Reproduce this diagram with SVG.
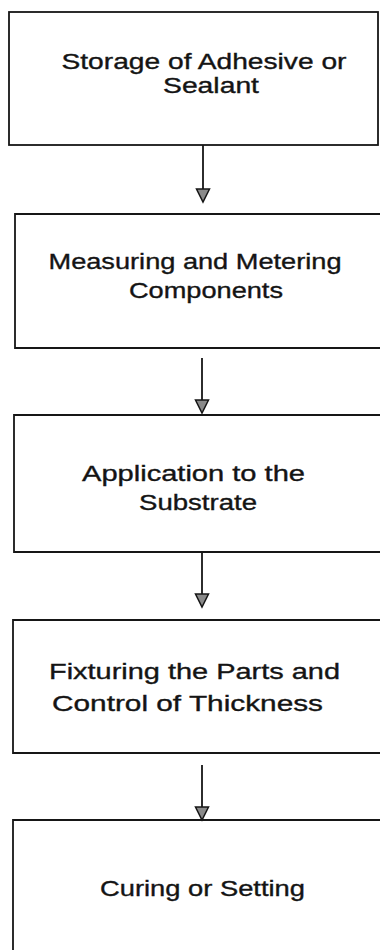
<svg xmlns="http://www.w3.org/2000/svg" width="380" height="950" viewBox="0 0 380 950">
<style>
.box{fill:none;stroke:#161616;stroke-width:1.8}
.lbl{font-family:"Liberation Sans",Arial,sans-serif;font-size:22px;fill:#141414;stroke:#141414;stroke-width:0.35;text-anchor:middle}
.line{stroke:#161616;stroke-width:1.8;fill:none}
.head{fill:#8a8a8a;stroke:#161616;stroke-width:1.5;stroke-linejoin:miter}
</style>
<rect width="380" height="950" fill="#ffffff"/>
<g id="connectors">
<line class="line" x1="203" y1="145" x2="203" y2="190"/>
<polygon class="head" points="196.5,189 209.5,189 203,202"/>
<line class="line" x1="202" y1="358" x2="202" y2="401"/>
<polygon class="head" points="195.5,400 208.5,400 202,413"/>
<line class="line" x1="202" y1="553" x2="202" y2="595"/>
<polygon class="head" points="195.5,594 208.5,594 202,607"/>
<line class="line" x1="202" y1="765" x2="202" y2="808"/>
<polygon class="head" points="195.5,807 208.5,807 202,820"/>
</g>
<g id="storage">
<rect class="box" x="9" y="12" width="369" height="133"/>
<text class="lbl" x="204" y="69" textLength="285" lengthAdjust="spacingAndGlyphs">Storage of Adhesive or</text>
<text class="lbl" x="211" y="93" textLength="96" lengthAdjust="spacingAndGlyphs">Sealant</text>
</g>
<g id="measuring">
<path class="box" d="M381,214 H15 V348 H381"/>
<text class="lbl" x="195" y="269" textLength="293" lengthAdjust="spacingAndGlyphs">Measuring and  Metering</text>
<text class="lbl" x="206" y="298" textLength="154" lengthAdjust="spacingAndGlyphs">Components</text>
</g>
<g id="application">
<path class="box" d="M381,415 H14 V552 H381"/>
<text class="lbl" x="193.5" y="481" textLength="223" lengthAdjust="spacingAndGlyphs">Application to the</text>
<text class="lbl" x="198" y="510" textLength="118" lengthAdjust="spacingAndGlyphs">Substrate</text>
</g>
<g id="fixturing">
<path class="box" d="M381,620 H13 V753 H381"/>
<text class="lbl" x="194.5" y="679" textLength="291" lengthAdjust="spacingAndGlyphs">Fixturing the Parts and</text>
<text class="lbl" x="187.5" y="711" textLength="271" lengthAdjust="spacingAndGlyphs">Control of Thickness</text>
</g>
<g id="curing">
<path class="box" d="M381,820 H13 V951"/>
<text class="lbl" x="202.5" y="896" textLength="205" lengthAdjust="spacingAndGlyphs">Curing or Setting</text>
</g>
</svg>
